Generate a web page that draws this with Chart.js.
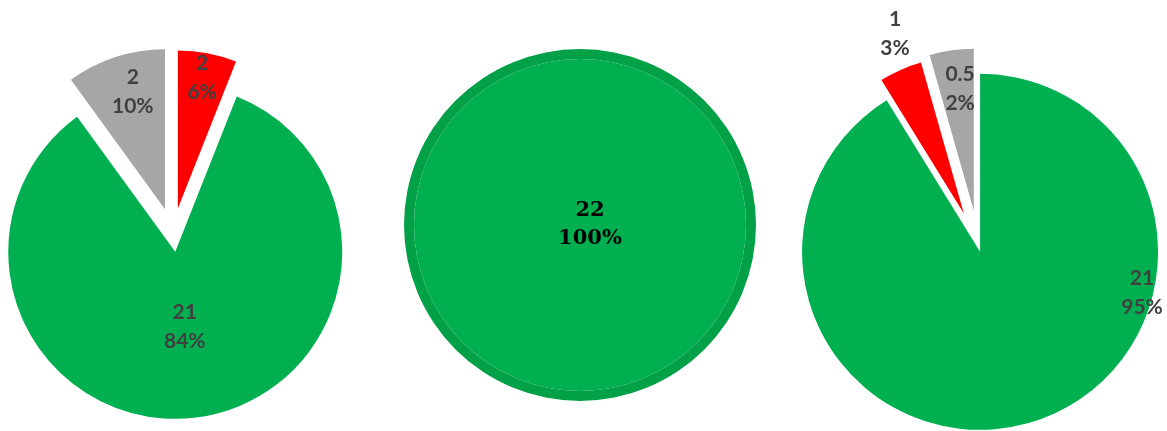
<!DOCTYPE html>
<html>
<head>
<meta charset="utf-8">
<script src="https://cdn.jsdelivr.net/npm/chart.js@4.4.1/dist/chart.umd.min.js"></script>
<style>
  html, body { margin: 0; background: #fff; overflow: hidden; }
  #wrap { position: relative; width: 1167px; height: 431px; }
  #wrap canvas { position: absolute; left: 0; top: 0; }
</style>
</head>
<body>
<div id="wrap"></div>
<script>
// left pie, slices clockwise from 12 o'clock: red, green, grey
const leftShare = [6, 84, 10];
const leftCount = ["2", "21", "2"];
const leftPercent = ["6%", "84%", "10%"];

// middle pie: a single slice
const midShare = [100];
const midCount = ["22"];
const midPercent = ["100%"];

// right pie, clockwise from 12 o'clock: green, red, grey
// (shares, the printed % are rounded)
const rightShare = [91.2, 4.4, 4.4];
const rightCount = ["21", "1", "0.5"];
const rightPercent = ["95%", "3%", "2%"];

const GREEN = "#00B050";
const DARK_GREEN = "#02A147";
const RED = "#FF0000";
const GREY = "#A6A6A6";
const W = 1167, H = 431;

// writes "count / percent" on one slice, placed by angle + distance from its tip
const sliceText = {
  id: "sliceText",
  afterDatasetsDraw(chart, args, opts) {
    if (!opts.lines) return;
    const arc = chart.getDatasetMeta(opts.dataset).data[opts.index];
    const a = opts.angle * Math.PI / 180;
    const x = arc.x + Math.sin(a) * opts.dist;
    const y = arc.y - Math.cos(a) * opts.dist;
    const ctx = chart.ctx;
    ctx.save();
    ctx.font = opts.font;
    ctx.fillStyle = opts.color;
    ctx.textAlign = "center";
    ctx.textBaseline = "middle";
    const n = opts.lines.length;
    opts.lines.forEach((t, k) => {
      ctx.fillText(t, x, y + (k - (n - 1) / 2) * opts.gap);
    });
    ctx.restore();
  }
};

// one canvas per layer, chart area centred on (cx, cy)
function layer(cx, cy, datasets, labelOpts) {
  const c = document.createElement("canvas");
  c.width = W;
  c.height = H;
  document.getElementById("wrap").appendChild(c);
  const padding = {
    left: Math.max(0, 2 * cx - W),
    right: Math.max(0, W - 2 * cx),
    top: Math.max(0, 2 * cy - H),
    bottom: Math.max(0, H - 2 * cy)
  };
  return new Chart(c, {
    type: "pie",
    data: { labels: datasets[0].data.map((v, i) => "s" + i), datasets: datasets },
    options: {
      responsive: false,
      animation: false,
      events: [],
      layout: { padding: padding },
      plugins: {
        legend: { display: false },
        tooltip: { enabled: false },
        sliceText: labelOpts
      }
    },
    plugins: [sliceText]
  });
}

// exploded pie: every slice gets its own layer so it can move out on its own
function explodedPie(p) {
  const total = p.share.reduce((s, v) => s + v, 0);
  let cum = 0;
  p.share.forEach((v, i) => {
    const mid = (cum + v / 2) / total * 2 * Math.PI;
    cum += v;
    const cx = p.center[0] + p.explode[i] * Math.sin(mid);
    const cy = p.center[1] - p.explode[i] * Math.cos(mid);
    const colors = p.colors.map((c, j) => (j === i ? c : "rgba(0,0,0,0)"));
    layer(cx, cy, [{
      data: p.share,
      backgroundColor: colors,
      borderWidth: 0,
      radius: p.radius[i]
    }], {
      dataset: 0,
      index: i,
      lines: [p.count[i], p.percent[i]],
      angle: p.labelAngle[i],
      dist: p.labelDist[i],
      font: "bold 21px Lato",
      color: "#404040",
      gap: 29
    });
  });
}

explodedPie({
  share: leftShare, count: leftCount, percent: leftPercent,
  colors: [RED, GREEN, GREY],
  center: [173, 234],
  explode: [26, 18, 26],
  radius: [158, 167, 160],
  labelAngle: [10.5, 172.7, 344.7],
  labelDist: [133, 75, 122]
});

explodedPie({
  share: rightShare, count: rightCount, percent: rightPercent,
  colors: [GREEN, RED, GREY],
  center: [979, 248],
  explode: [4, 37.6, 37.6],
  radius: [178, 157, 162],
  labelAngle: [104.2, 339.1, 353.6],
  labelDist: [167, 193, 123]
});

// middle pie: dark outer ring + green disc
layer(580, 225, [
  { data: midShare, backgroundColor: [DARK_GREEN], borderWidth: 0, radius: 176, weight: 10 },
  { data: midShare, backgroundColor: [GREEN], borderWidth: 0, radius: 176, weight: 166 }
], {
  dataset: 1,
  index: 0,
  lines: [midCount[0], midPercent[0]],
  angle: 90,
  dist: 10,
  font: "bold 21px 'DejaVu Serif'",
  color: "#000000",
  gap: 28
});
</script>
</body>
</html>
